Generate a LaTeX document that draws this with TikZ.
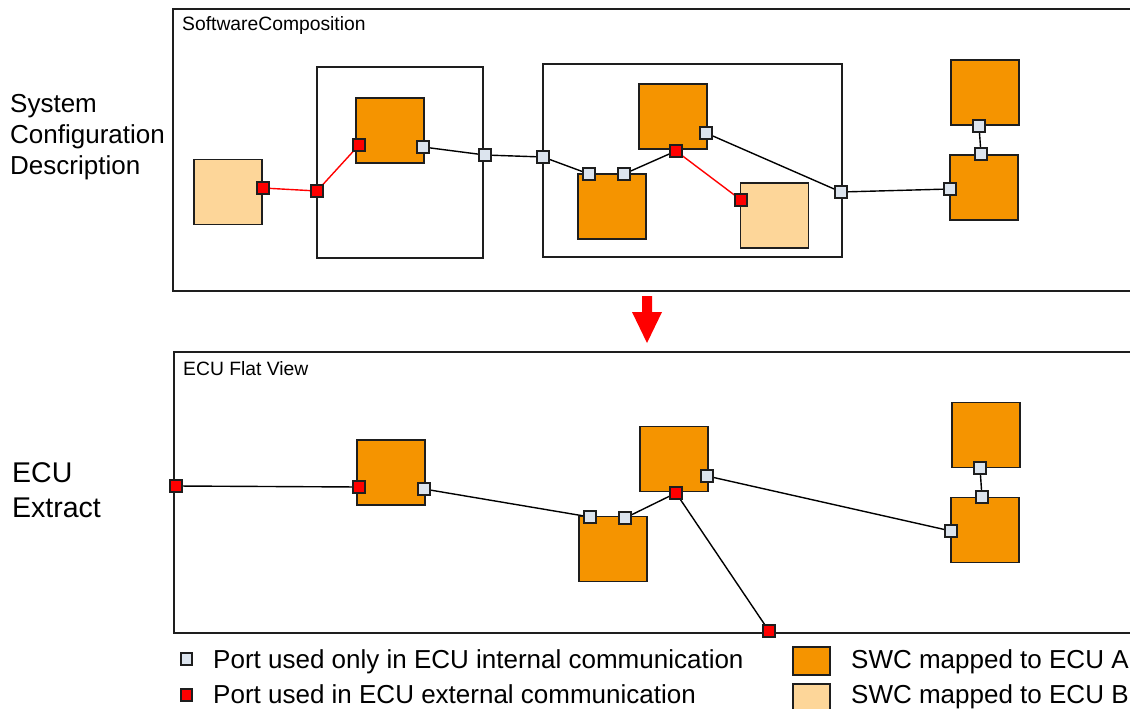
\documentclass[tikz,border=0pt]{standalone}
\usepackage{fontspec}
\setmainfont{Liberation Sans}
\usetikzlibrary{backgrounds}
\definecolor{swcA}{HTML}{F59400}
\definecolor{swcB}{HTML}{FDD699}
\definecolor{portint}{HTML}{DCE4EE}
\definecolor{portext}{HTML}{FF0000}
\definecolor{edgecol}{HTML}{1E1E1E}
\begin{document}
\begin{tikzpicture}[x=1pt,y=-1pt,
  swc/.style={rectangle, draw=edgecol, line width=1.6pt, minimum width=68pt, minimum height=65pt, inner sep=0pt},
  ecuA/.style={swc, fill=swcA},
  ecuB/.style={swc, fill=swcB},
  comp/.style={rectangle, draw=edgecol, line width=1.6pt, inner sep=0pt},
  port/.style={rectangle, draw=edgecol, line width=1.5pt, minimum size=12pt, inner sep=0pt},
  iport/.style={port, fill=portint},
  eport/.style={port, fill=portext},
  conn/.style={draw=black, line width=1.4pt},
  extconn/.style={draw=red, line width=1.4pt},
  boxlbl/.style={anchor=base west, inner sep=0pt, font=\fontsize{19.3}{22}\selectfont},
  sidelbl/.style={anchor=base west, inner sep=0pt, align=left},
  leglbl/.style={anchor=base west, inner sep=0pt, font=\fontsize{26}{30}\selectfont},
  legA/.style={rectangle, draw=edgecol, line width=1.5pt, minimum width=37pt, minimum height=28pt, inner sep=0pt, fill=swcA},
  legB/.style={rectangle, draw=edgecol, line width=1.5pt, minimum width=37pt, minimum height=28pt, inner sep=0pt, fill=swcB},
  legport/.style={rectangle, draw=edgecol, line width=1.2pt, minimum width=11pt, minimum height=12pt, inner sep=0pt}
]
\useasboundingbox (0,0) rectangle (1130,709);

% ---------- side labels ----------
\node[sidelbl, font=\fontsize{26}{31}\selectfont] (sysdesc) at (10,174) {System\\Configuration\\Description};
\node[sidelbl, font=\fontsize{28.5}{35}\selectfont] (ecuext) at (12,517) {ECU\\Extract};

% ---------- top: software composition ----------
\draw[edgecol, line width=1.6pt] (1131,9) -- (173,9) -- (173,291) -- (1131,291);
\node[boxlbl] (swclbl) at (182,31) {SoftwareComposition};

\node[comp, minimum width=166pt, minimum height=191pt] (in1) at (400,162.5) {};
\node[comp, minimum width=299pt, minimum height=193pt] (in2) at (692.5,160.5) {};

\node[ecuB] (B1) at (228,192) {};
\node[ecuA] (A1) at (390,130.5) {};
\node[ecuA] (A2) at (612,206.5) {};
\node[ecuA] (A3) at (673,116.5) {};
\node[ecuB] (B2) at (774.5,215.5) {};
\node[ecuA] (A4) at (985,92.5) {};
\node[ecuA] (A5) at (984,187.5) {};

\node[eport] (p1) at (263,188) {};
\node[eport] (p2) at (317,191) {};
\node[eport] (p3) at (359,145) {};
\node[iport] (p4) at (423,147) {};
\node[iport] (p5) at (485,155) {};
\node[iport] (p6) at (543,157) {};
\node[iport] (p7) at (589,174) {};
\node[iport] (p8) at (624,174) {};
\node[eport] (p9) at (676,151) {};
\node[iport] (p10) at (706,133) {};
\node[eport] (p11) at (741,200) {};
\node[iport] (p12) at (841,192) {};
\node[iport] (p13) at (950,189) {};
\node[iport] (p14) at (979,126) {};
\node[iport] (p15) at (981,154) {};

\begin{scope}[on background layer]
  \draw[extconn] (p1.center) -- (p2.center);
  \draw[extconn] (p2.center) -- (p3.center);
  \draw[conn] (p4.center) -- (p5.center);
  \draw[conn] (p5.center) -- (p6.center);
  \draw[conn] (p6.center) -- (p7.center);
  \draw[conn] (p8.center) -- (p9.center);
  \draw[extconn] (p9.center) -- (p11.center);
  \draw[conn] (p10.center) -- (p12.center);
  \draw[conn] (p12.center) -- (p13.center);
  \draw[conn] (p14.center) -- (p15.center);
\end{scope}

% ---------- arrow ----------
\fill[red] (642,296) -- (652,296) -- (652,312) -- (662,312) -- (647,343) -- (632,312) -- (642,312) -- cycle;

% ---------- bottom: ECU flat view ----------
\draw[edgecol, line width=1.6pt] (1131,352) -- (174,352) -- (174,633) -- (1131,633);
\node[boxlbl] (eculbl) at (183,375) {ECU Flat View};

\node[ecuA] (C1) at (391,472.5) {};
\node[ecuA] (C3) at (674,459) {};
\node[ecuA] (C2) at (613,549) {};
\node[ecuA] (C4) at (986,435) {};
\node[ecuA] (C5) at (985,530) {};

\node[eport] (q1) at (176,486) {};
\node[eport] (q2) at (359,487) {};
\node[iport] (q3) at (424,489) {};
\node[iport] (q4) at (590,517) {};
\node[iport] (q5) at (625,518) {};
\node[eport] (q6) at (676,493) {};
\node[iport] (q7) at (707,476) {};
\node[eport] (q8) at (769,631) {};
\node[iport] (q9) at (951,531) {};
\node[iport] (q10) at (980,468) {};
\node[iport] (q11) at (982,497) {};

\begin{scope}[on background layer]
  \draw[conn] (q1.center) -- (q2.center);
  \draw[conn] (q3.center) -- (q4.center);
  \draw[conn] (q5.center) -- (q6.center);
  \draw[conn] (q6.center) -- (q8.center);
  \draw[conn] (q7.center) -- (q9.center);
  \draw[conn] (q10.center) -- (q11.center);
\end{scope}

% ---------- legend ----------
\node[legport, fill=portint] (lg1) at (186.5,659) {};
\node[legport, fill=portext] (lg2) at (186.5,695) {};
\node[leglbl] (lt1) at (213,668) {Port used only in ECU internal communication};
\node[leglbl] (lt2) at (213,703) {Port used in ECU external communication};

\node[legA] (lg3) at (811.5,661) {};
\node[legB] (lg4) at (811.5,698) {};
\node[leglbl] (lt3) at (851,668) {SWC mapped to ECU A};
\node[leglbl] (lt4) at (851,703) {SWC mapped to ECU B};
\end{tikzpicture}
\end{document}
